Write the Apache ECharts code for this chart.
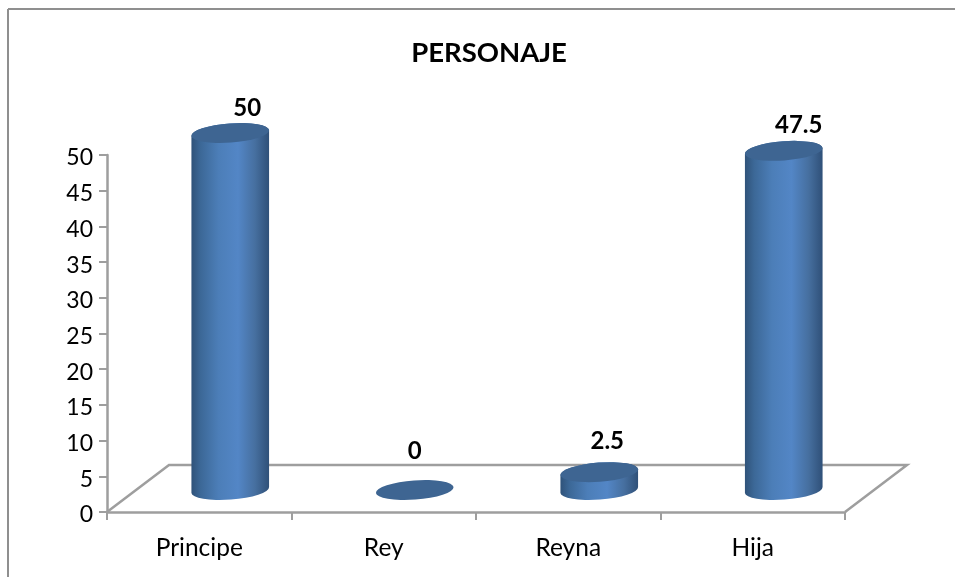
<!DOCTYPE html>
<html>
<head>
<meta charset="utf-8">
<style>html,body{margin:0;padding:0;background:#fff}#c{width:955px;height:577px}</style>
<script src="https://cdn.jsdelivr.net/npm/echarts@6/dist/echarts.min.js"></script>
</head>
<body>
<div id="c"></div>
<script>
const categories = ['Principe', 'Rey', 'Reyna', 'Hija'];
const values = [50, 0, 2.5, 47.5];
const valueLabels = ['50', '0', '2.5', '47.5'];
const yTicks = [0, 50, 5];

// layout of the pseudo-3D look
const depthX = 62, depthY = -47;
const offX = 31, offY = -22;
const widthRatio = 0.422, ry = 9.6, tilt = -0.075;
const labelShift = [[17, -25], [0, -39], [8, -31], [15, -26]];
const FONT = 'Lato, Carlito, "Open Sans", sans-serif';
const AXIS = '#9e9e9e';

const chart = echarts.init(document.getElementById('c'), null, {renderer: 'canvas'});

function ellipsePath(cx, cy, rx, ry, t) {
  const dx = rx * Math.cos(t), dy = rx * Math.sin(t), deg = t * 180 / Math.PI;
  return 'M' + (cx - dx) + ' ' + (cy - dy) +
    'A' + rx + ' ' + ry + ' ' + deg + ' 1 1 ' + (cx + dx) + ' ' + (cy + dy) +
    'A' + rx + ' ' + ry + ' ' + deg + ' 1 1 ' + (cx - dx) + ' ' + (cy - dy) + 'Z';
}
function bodyPath(cx, yb, yt, rx, ry, t) {
  const dx = rx * Math.cos(t), dy = rx * Math.sin(t), deg = t * 180 / Math.PI;
  return 'M' + (cx - dx) + ' ' + (yt - dy) +
    'L' + (cx - dx) + ' ' + (yb - dy) +
    'A' + rx + ' ' + ry + ' ' + deg + ' 0 0 ' + (cx + dx) + ' ' + (yb + dy) +
    'L' + (cx + dx) + ' ' + (yt + dy) +
    'A' + rx + ' ' + ry + ' ' + deg + ' 0 0 ' + (cx - dx) + ' ' + (yt - dy) + 'Z';
}
const bodyFill = new echarts.graphic.LinearGradient(0, 0, 1, 0, [
  {offset: 0, color: '#2f5279'},
  {offset: 0.12, color: '#3c6897'},
  {offset: 0.35, color: '#4c7eb8'},
  {offset: 0.6, color: '#5386c6'},
  {offset: 0.82, color: '#466f9f'},
  {offset: 1, color: '#2f5078'}
]);

function renderCylinder(params, api) {
  const i = api.value(0), v = api.value(1);
  const base = api.coord([i, 0]), top = api.coord([i, v]);
  const rx = api.size([1, 0])[0] * widthRatio / 2;
  const cx = base[0] + offX, yb = base[1] + offY, yt = top[1] + offY;
  const children = [];
  if (v > 0) {
    children.push({type: 'path', shape: {pathData: bodyPath(cx, yb, yt, rx, ry, tilt)},
      style: {fill: bodyFill, stroke: null}});
  }
  children.push({type: 'path', shape: {pathData: ellipsePath(cx, yt, rx, ry, tilt)},
    style: {fill: '#3e6592', stroke: null}});
  const s = labelShift[i];
  children.push({type: 'text', x: cx + s[0], y: yt + s[1],
    style: {text: valueLabels[i], font: 'bold 24px ' + FONT, fill: '#000', align: 'center', verticalAlign: 'middle'}});
  return {type: 'group', children};
}

function renderFloor(params, api) {
  const cs = params.coordSys;
  const x0 = cs.x, x1 = cs.x + cs.width, y = cs.y + cs.height;
  return {type: 'polyline',
    shape: {points: [[x0, y], [x0 + depthX, y + depthY], [x1 + depthX, y + depthY], [x1, y]]},
    style: {stroke: AXIS, lineWidth: 2.5, fill: null}};
}

chart.setOption({
  animation: false,
  backgroundColor: '#fff',
  title: {text: 'PERSONAJE', left: 484, top: 34, textAlign: 'center',
    textStyle: {fontFamily: FONT, fontWeight: 'bold', fontSize: 27.5, color: '#000'}},
  grid: {left: 107, right: 110, top: 155, bottom: 65, containLabel: false},
  graphic: [
    {type: 'line', shape: {x1: 8, y1: 9, x2: 955, y2: 9}, style: {stroke: '#8f8f8f', lineWidth: 2}, silent: true},
    {type: 'line', shape: {x1: 8, y1: 9, x2: 8, y2: 577}, style: {stroke: '#8f8f8f', lineWidth: 2}, silent: true}
  ],
  xAxis: {type: 'category', data: categories,
    axisLine: {lineStyle: {color: AXIS, width: 2.5}},
    axisTick: {show: true, alignWithLabel: false, length: 8, lineStyle: {color: AXIS, width: 2}},
    axisLabel: {color: '#000', fontFamily: FONT, fontSize: 24.5, margin: 24}},
  yAxis: {type: 'value', min: yTicks[0], max: yTicks[1], interval: yTicks[2],
    axisLine: {show: true, lineStyle: {color: AXIS, width: 2.5}},
    axisTick: {show: true, length: 8, lineStyle: {color: AXIS, width: 2}},
    splitLine: {show: false},
    axisLabel: {color: '#000', fontFamily: FONT, fontSize: 23, margin: 14, verticalAlign: 'top', lineHeight: 6}},
  series: [
    {type: 'custom', z: 1, silent: true, renderItem: renderFloor, data: [[0, 0]], encode: {x: 0, y: 1}, clip: false},
    {type: 'custom', z: 3, renderItem: renderCylinder, clip: false,
      data: values.map((v, i) => [i, v]), encode: {x: 0, y: 1}}
  ]
});
</script>
</body>
</html>
